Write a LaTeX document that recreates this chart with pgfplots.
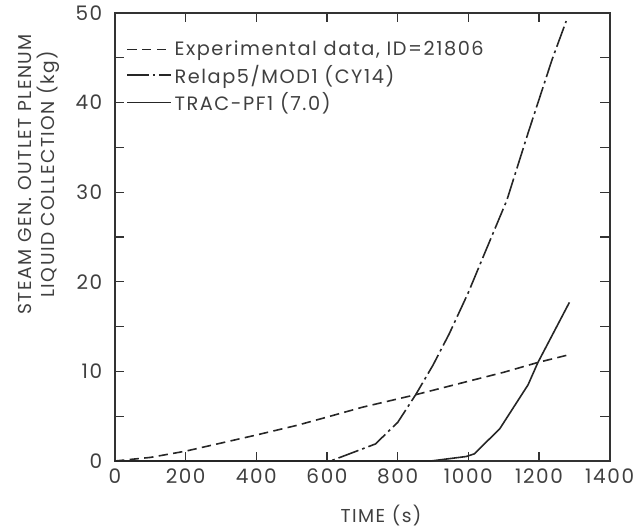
\documentclass[border=0pt]{standalone}
\usepackage{fontspec}
\setmainfont{Poppins}
\newfontfamily\lettering[LetterSpace=8]{Poppins}
\usepackage{pgfplots}
\pgfplotsset{compat=1.18}

\begin{document}
\begin{tikzpicture}
\begin{axis}[
    scale only axis,
    width=371pt,
    height=336pt,
    xmin=0, xmax=1400,
    ymin=0, ymax=50,
    xtick={0,200,...,1400},
    ytick={0,10,...,50},
    minor ytick={5,15,...,45},
    tick align=inside,
    major tick length=7pt,
    minor tick length=7pt,
    tick style={line width=1pt, black!80},
    axis line style={line width=1.3pt, black!80},
    /pgf/number format/assume math mode=true,
    /pgf/number format/1000 sep={},
    tick label style={font=\lettering\fontsize{15}{17}\selectfont, black!75},
    yticklabel style={xshift=-6pt},
    xticklabel style={yshift=-2pt},
    xlabel={TIME (s)},
    ylabel={STEAM GEN. OUTLET PLENUM\\LIQUID COLLECTION (kg)},
    xlabel style={font=\lettering\fontsize{14}{16}\selectfont, black!75, xshift=14pt, yshift=-9pt},
    ylabel style={font=\lettering\fontsize{14}{17.5}\selectfont, black!75, align=center,
        at={(ticklabel cs:0.64)}, yshift=5pt},
    legend style={at={(rel axis cs:0.015,0.95)}, anchor=north west,
        draw=none, fill=none, font=\lettering\fontsize{14.5}{16}\selectfont,
        text=black!75, row sep=1.5pt},
    legend cell align=left,
    legend image code/.code={\draw[#1] (0cm,0cm) -- (1.15cm,0cm);},
]
\addplot[black!85, line width=1.2pt, no marks, dash pattern=on 7pt off 4pt] coordinates {
(0,0) (100,0.4) (200,1.1) (300,2.0) (400,2.9) (517,4.0) (600,4.9)
(700,6.0) (851,7.4) (1000,8.9) (1100,9.9) (1197,11.0) (1289,11.9)};
\addlegendentry{Experimental data, ID=21806}
\addplot[black!85, line width=1.2pt, no marks, dash pattern=on 16pt off 3pt on 2pt off 3pt] coordinates {
(0,0) (610,0) (737,1.9) (800,4.3) (851,7.4) (900,10.7) (946,14.2)
(1000,18.8) (1040,22.6) (1109,29.1) (1169,36.6) (1237,44.8) (1277,49.1)};
\addlegendentry{Relap5/MOD1 (CY14)}
\addplot[black!85, line width=1.2pt, no marks, solid] coordinates {
(0,0) (894,0) (994,0.5) (1017,0.8) (1089,3.6) (1169,8.5) (1197,11.0)
(1286,17.7)};
\addlegendentry{TRAC-PF1 (7.0)}
\end{axis}
\path (-86.25pt,-46.5pt) rectangle ++(483pt,392.25pt);
\end{tikzpicture}
\end{document}
